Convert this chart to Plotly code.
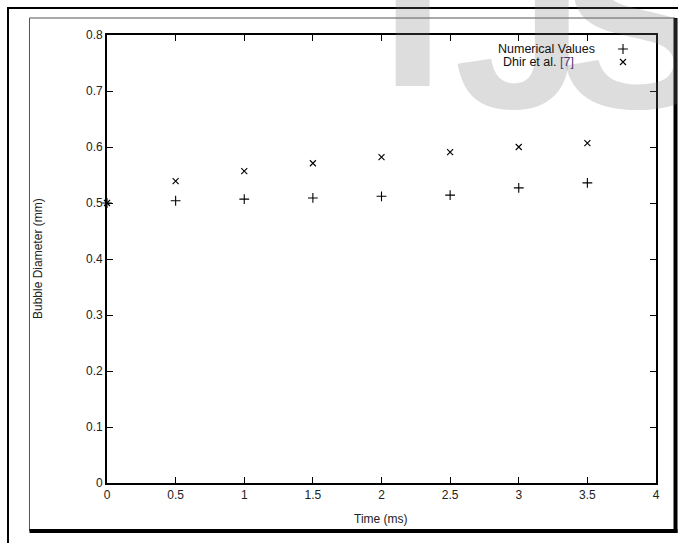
import plotly.graph_objects as go

# ---- data ----
time_ms = [0, 0.5, 1, 1.5, 2, 2.5, 3, 3.5]
numerical_values = [0.500, 0.504, 0.507, 0.509, 0.512, 0.514, 0.527, 0.536]
dhir_values = [0.500, 0.539, 0.557, 0.571, 0.582, 0.591, 0.600, 0.607]
x_ticks = [0, 0.5, 1, 1.5, 2, 2.5, 3, 3.5, 4]
x_tick_labels = ["0", "0.5", "1", "1.5", "2", "2.5", "3", "3.5", "4"]
y_ticks = [0, 0.1, 0.2, 0.3, 0.4, 0.5, 0.6, 0.7, 0.8]
y_tick_labels = ["0", "0.1", "0.2", "0.3", "0.4", "0.5", "0.6", "0.7", "0.8"]

W, H = 678, 543
L, R, T, B = 107, 22, 35, 60
PW, PH = W - L - R, H - T - B


def px(x):
    return (x - L) / PW


def py(y):
    return (H - B - y) / PH


FONT = "Liberation Sans, Arial, sans-serif"
TXT = "#222"

fig = go.Figure()
fig.add_trace(go.Scatter(
    x=time_ms, y=numerical_values, mode="markers", name="Numerical Values",
    marker=dict(symbol="cross-thin", size=7, line=dict(color="black", width=1.1)),
    cliponaxis=False, showlegend=False))
fig.add_trace(go.Scatter(
    x=time_ms, y=dhir_values, mode="markers", name="Dhir et al. [7]",
    marker=dict(symbol="x-thin", size=6, line=dict(color="black", width=1.1)),
    cliponaxis=False, showlegend=False))

axis_common = dict(
    showline=True, linecolor="black", linewidth=1.6, mirror="ticks",
    ticks="inside", ticklen=6, tickwidth=1.3, tickcolor="black",
    showgrid=False, zeroline=False,
    tickfont=dict(family=FONT, size=12, color=TXT),
)
fig.update_xaxes(range=[0, 4], tickvals=x_ticks, ticktext=x_tick_labels, **axis_common)
fig.update_yaxes(range=[0, 0.8], tickvals=y_ticks, ticktext=y_tick_labels, **axis_common)

shapes = []
# outer frame (left + top)
shapes.append(dict(type="line", xref="paper", yref="paper", x0=px(8), x1=px(8), y0=py(7), y1=py(545),
                   line=dict(color="black", width=2)))
shapes.append(dict(type="line", xref="paper", yref="paper", x0=px(7), x1=px(680), y0=py(8), y1=py(8),
                   line=dict(color="black", width=2)))
# inner frame thin left + top
shapes.append(dict(type="line", xref="paper", yref="paper", x0=px(29.5), x1=px(29.5), y0=py(18), y1=py(531),
                   line=dict(color="#555", width=1)))
shapes.append(dict(type="line", xref="paper", yref="paper", x0=px(29.5), x1=px(675), y0=py(18), y1=py(18),
                   line=dict(color="#555", width=1)))
# inner frame thick right + bottom (shadow)
shapes.append(dict(type="line", xref="paper", yref="paper", x0=px(675.5), x1=px(675.5), y0=py(18), y1=py(533),
                   line=dict(color="black", width=4)))
shapes.append(dict(type="line", xref="paper", yref="paper", x0=px(29.5), x1=px(677.5), y0=py(531), y1=py(531),
                   line=dict(color="black", width=4)))

WM = dict(family=FONT, size=235, color="rgba(120,120,120,0.25)")
annotations = [
    # watermark letters
    dict(text="<b>I</b>", xref="paper", yref="paper", x=px(378), y=py(138), xanchor="left", yanchor="bottom",
         showarrow=False, font=WM),
    dict(text="<b>J</b>", xref="paper", yref="paper", x=px(452), y=py(160), xanchor="left", yanchor="bottom",
         showarrow=False, font=WM),
    dict(text="<b>S</b>", xref="paper", yref="paper", x=px(557), y=py(160), xanchor="left", yanchor="bottom",
         showarrow=False, font=WM),
    # axis titles
    dict(text="Time (ms)", xref="paper", yref="paper", x=px(381), y=py(519), xanchor="center", yanchor="middle",
         showarrow=False, font=dict(family=FONT, size=12, color=TXT)),
    dict(text="Bubble Diameter (mm)", xref="paper", yref="paper", x=px(38), y=py(259), xanchor="center",
         yanchor="middle", textangle=-90, showarrow=False, font=dict(family=FONT, size=12, color=TXT)),
    # legend
    dict(text="Numerical Values", xref="paper", yref="paper", x=px(597), y=py(49), xanchor="right", yanchor="middle",
         showarrow=False, font=dict(family=FONT, size=12.5, color="#111")),
    dict(text="Dhir et al. <span style='color:#4a3a78'>[7]</span>", xref="paper", yref="paper", x=px(576), y=py(62),
         xanchor="right", yanchor="middle", showarrow=False, font=dict(family=FONT, size=12.5, color="#111")),
]

fig.update_layout(
    width=W, height=H, margin=dict(l=L, r=R, t=T, b=B),
    paper_bgcolor="white", plot_bgcolor="white",
    shapes=shapes, annotations=annotations,
)

# legend sample markers drawn on an overlay axis in paper-like units
fig.add_trace(go.Scatter(x=[px(623)], y=[py(49)], xaxis="x2", yaxis="y2", mode="markers",
                         marker=dict(symbol="cross-thin", size=7, line=dict(color="black", width=1.1)),
                         showlegend=False, hoverinfo="skip", cliponaxis=False))
fig.add_trace(go.Scatter(x=[px(623)], y=[py(62)], xaxis="x2", yaxis="y2", mode="markers",
                         marker=dict(symbol="x-thin", size=6, line=dict(color="black", width=1.1)),
                         showlegend=False, hoverinfo="skip", cliponaxis=False))
fig.update_layout(
    xaxis2=dict(overlaying="x", range=[0, 1], visible=False, fixedrange=True),
    yaxis2=dict(overlaying="y", range=[0, 1], visible=False, fixedrange=True),
)

fig.write_html("out.html", config={"displayModeBar": False},
               post_script="document.body.style.margin='0';document.body.style.overflow='hidden';")
